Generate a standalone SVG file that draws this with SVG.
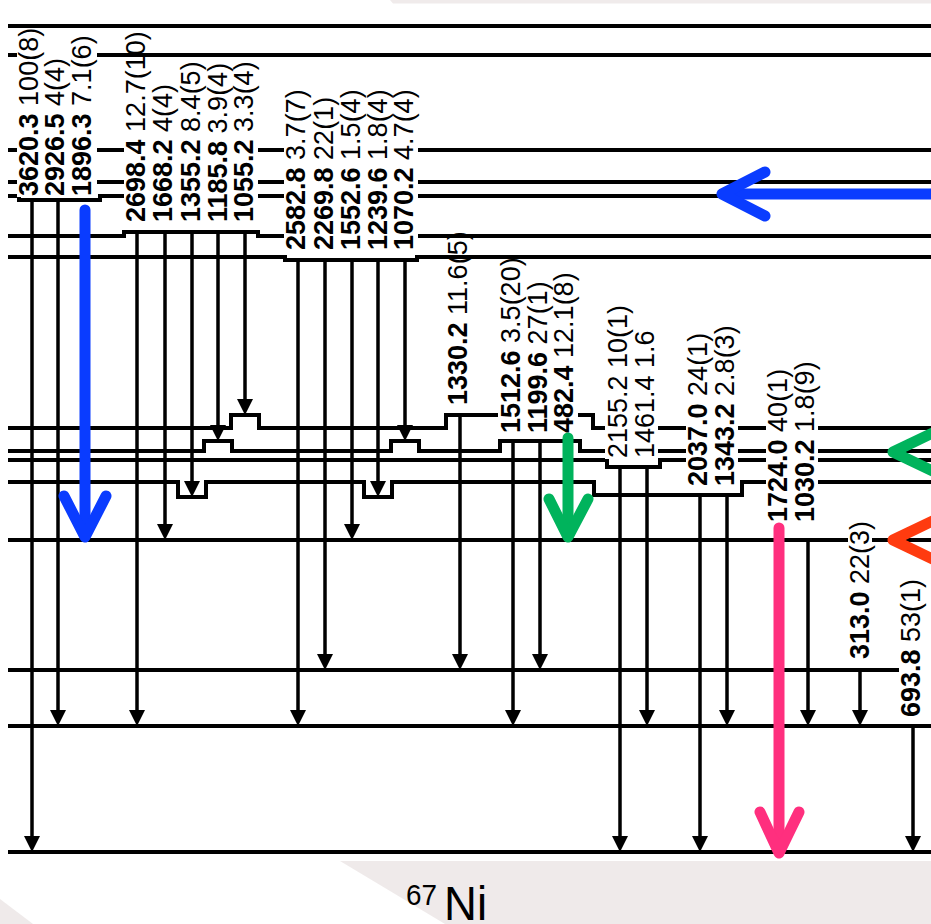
<svg xmlns="http://www.w3.org/2000/svg" width="931" height="924" viewBox="0 0 931 924">
<style>
.lv{fill:none;stroke:#000;stroke-width:4}
.tr{fill:none;stroke:#000;stroke-width:3.5;marker-end:url(#ah)}
.lbl{font-family:"Liberation Sans",Arial,sans-serif;font-size:27px;fill:#000}
.b{font-weight:bold}
.bg{fill:#fff}
.hl{fill:none;stroke-width:11;stroke-linecap:round;stroke-linejoin:round}
.nuc{font-family:"Liberation Sans",Arial,sans-serif;fill:#000}
</style>
<defs>
<marker id="ah" markerUnits="userSpaceOnUse" viewBox="0 0 16 16" markerWidth="16" markerHeight="16" refX="10" refY="8" orient="auto">
<path d="M0,0 L16,8 L0,16 z" fill="#000"/>
</marker>
</defs>
<rect width="931" height="924" fill="#fff"/>
<g id="background">
<polygon points="390,0 931,0 931,3.5 393,3.5" fill="#f0ebeb"/>
<polygon points="340,861 931,861 931,924 445,924" fill="#efeaea"/>
<polygon points="0,899 33,924 0,924" fill="#efeaea"/>
</g>
<g id="levels">
<path id="lv1" class="lv" d="M8 26H931"/>
<path id="lv2" class="lv" d="M8 55H931"/>
<path id="lv3" class="lv" d="M8 150H931"/>
<path id="lv4" class="lv" d="M8 182H931"/>
<path id="lv5" class="lv" d="M8 196H19V200H100V196H931"/>
<path id="lv6" class="lv" d="M8 236H124V232H258V236H931"/>
<path id="lv7" class="lv" d="M8 257H285V260H417V257H931"/>
<path id="lv8" class="lv" d="M8 428H231V415H259V428H446V415H593V428H931"/>
<path id="lv9" class="lv" d="M8 451H204V441H232V451H391V441H419V451H500V441H580V451H931"/>
<path id="lv10" class="lv" d="M8 460H607V467H660V460H931"/>
<path id="lv11" class="lv" d="M8 482H178V497H206V482H364V497H392V482H594V495H742V482H931"/>
<path id="lv12" class="lv" d="M8 540H931"/>
<path id="lv13" class="lv" d="M8 670H902"/>
<path id="lv14" class="lv" d="M8 726H931"/>
<path id="lv15" class="lv" d="M8 852H931"/>
</g>
<g id="connectors">
<path class="tr" d="M32 200V846"/>
<path class="tr" d="M58 200V720"/>
<path class="tr" d="M137 232V720"/>
<path class="tr" d="M165 232V534"/>
<path class="tr" d="M192 232V491"/>
<path class="tr" d="M218 232V435"/>
<path class="tr" d="M245 232V409"/>
<path class="tr" d="M298 260V720"/>
<path class="tr" d="M325 260V664"/>
<path class="tr" d="M352 260V534"/>
<path class="tr" d="M378 260V491"/>
<path class="tr" d="M405 260V435"/>
<path class="tr" d="M460 415V664"/>
<path class="tr" d="M513 441V720"/>
<path class="tr" d="M540 441V664"/>
<path class="tr" d="M620 467V846"/>
<path class="tr" d="M647 467V720"/>
<path class="tr" d="M700 495V846"/>
<path class="tr" d="M727 495V720"/>
<path class="tr" d="M808 540V720"/>
<path class="tr" d="M860 670V720"/>
<path class="tr" d="M913 726V846"/>
</g>
<g id="label-backgrounds">
<rect class="bg" x="17" y="29" width="80" height="168"/>
<rect class="bg" x="124" y="60" width="134" height="169"/>
<rect class="bg" x="284" y="86" width="134" height="168"/>
<rect class="bg" x="498" y="260" width="80" height="175"/>
<rect class="bg" x="605" y="302" width="53" height="157"/>
<rect class="bg" x="686" y="322" width="52" height="166"/>
<rect class="bg" x="766" y="358" width="52" height="166"/>
<rect class="bg" x="848" y="519" width="24" height="142"/>
<rect class="bg" x="899" y="576" width="25" height="143"/>
</g>
<g id="labels">
<text class="lbl" transform="translate(38,196) rotate(-90)"><tspan class="b">3620.3</tspan> 100(8)</text>
<text class="lbl" transform="translate(64,196) rotate(-90)"><tspan class="b">2926.5</tspan> 4(4)</text>
<text class="lbl" transform="translate(91,196) rotate(-90)"><tspan class="b">1896.3</tspan> 7.1(6)</text>
<text class="lbl" transform="translate(145,222) rotate(-90)"><tspan class="b">2698.4</tspan> 12.7(10)</text>
<text class="lbl" transform="translate(172,222) rotate(-90)"><tspan class="b">1668.2</tspan> 4(4)</text>
<text class="lbl" transform="translate(200,222) rotate(-90)"><tspan class="b">1355.2</tspan> 8.4(5)</text>
<text class="lbl" transform="translate(227,222) rotate(-90)"><tspan class="b">1185.8</tspan> 3.9(4)</text>
<text class="lbl" transform="translate(253,222) rotate(-90)"><tspan class="b">1055.2</tspan> 3.3(4)</text>
<text class="lbl" transform="translate(305,250) rotate(-90)"><tspan class="b">2582.8</tspan> 3.7(7)</text>
<text class="lbl" transform="translate(333,250) rotate(-90)"><tspan class="b">2269.8</tspan> 22(1)</text>
<text class="lbl" transform="translate(360,250) rotate(-90)"><tspan class="b">1552.6</tspan> 1.5(4)</text>
<text class="lbl" transform="translate(387,250) rotate(-90)"><tspan class="b">1239.6</tspan> 1.8(4)</text>
<text class="lbl" transform="translate(413,250) rotate(-90)"><tspan class="b">1070.2</tspan> 4.7(4)</text>
<text class="lbl" transform="translate(467,405) rotate(-90)"><tspan class="b">1330.2</tspan> 11.6(5)</text>
<text class="lbl" transform="translate(520,433) rotate(-90)"><tspan class="b">1512.6</tspan> 3.5(20)</text>
<text class="lbl" transform="translate(547,433) rotate(-90)"><tspan class="b">1199.6</tspan> 27(1)</text>
<text class="lbl" transform="translate(573,433) rotate(-90)"><tspan class="b">482.4</tspan> 12.1(8)</text>
<text class="lbl" transform="translate(627,458) rotate(-90)">2155.2 10(1)</text>
<text class="lbl" transform="translate(654,458) rotate(-90)">1461.4 1.6</text>
<text class="lbl" transform="translate(707,486) rotate(-90)"><tspan class="b">2037.0</tspan> 24(1)</text>
<text class="lbl" transform="translate(734,486) rotate(-90)"><tspan class="b">1343.2</tspan> 2.8(3)</text>
<text class="lbl" transform="translate(787,522) rotate(-90)"><tspan class="b">1724.0</tspan> 40(1)</text>
<text class="lbl" transform="translate(814,522) rotate(-90)"><tspan class="b">1030.2</tspan> 1.8(9)</text>
<text class="lbl" transform="translate(869,659) rotate(-90)"><tspan class="b">313.0</tspan> 22(3)</text>
<text class="lbl" transform="translate(920,717) rotate(-90)"><tspan class="b">693.8</tspan> 53(1)</text>
</g>
<g id="highlights">
<g id="blue-arrows">
<path class="hl" stroke="#0a3cff" d="M85 210V534"/>
<path class="hl" stroke="#0a3cff" d="M64 496L85 537L106 496"/>
<path class="hl" stroke="#0a3cff" d="M931 194H724"/>
<path class="hl" stroke="#0a3cff" d="M765 172L722 194L765 216"/>
</g>
<g id="green-arrows">
<path class="hl" stroke="#00b35c" d="M568 438V534"/>
<path class="hl" stroke="#00b35c" d="M549 499L568 537L588 499"/>
<path class="hl" stroke="#00b35c" d="M945 427L893 452L945 477"/>
</g>
<g id="red-arrow">
<path class="hl" stroke="#ff3b0f" d="M945 515L893 540L945 565"/>
</g>
<g id="pink-arrow">
<path class="hl" stroke="#ff2f7e" d="M779 528V850"/>
<path class="hl" stroke="#ff2f7e" d="M760 812L779 853L799 812"/>
</g>
</g>
<g id="nucleus">
<text class="nuc" x="406" y="905" font-size="30" textLength="31" lengthAdjust="spacingAndGlyphs">67</text>
<text class="nuc" x="444" y="920" font-size="48" textLength="43" lengthAdjust="spacingAndGlyphs">Ni</text>
</g>
</svg>
